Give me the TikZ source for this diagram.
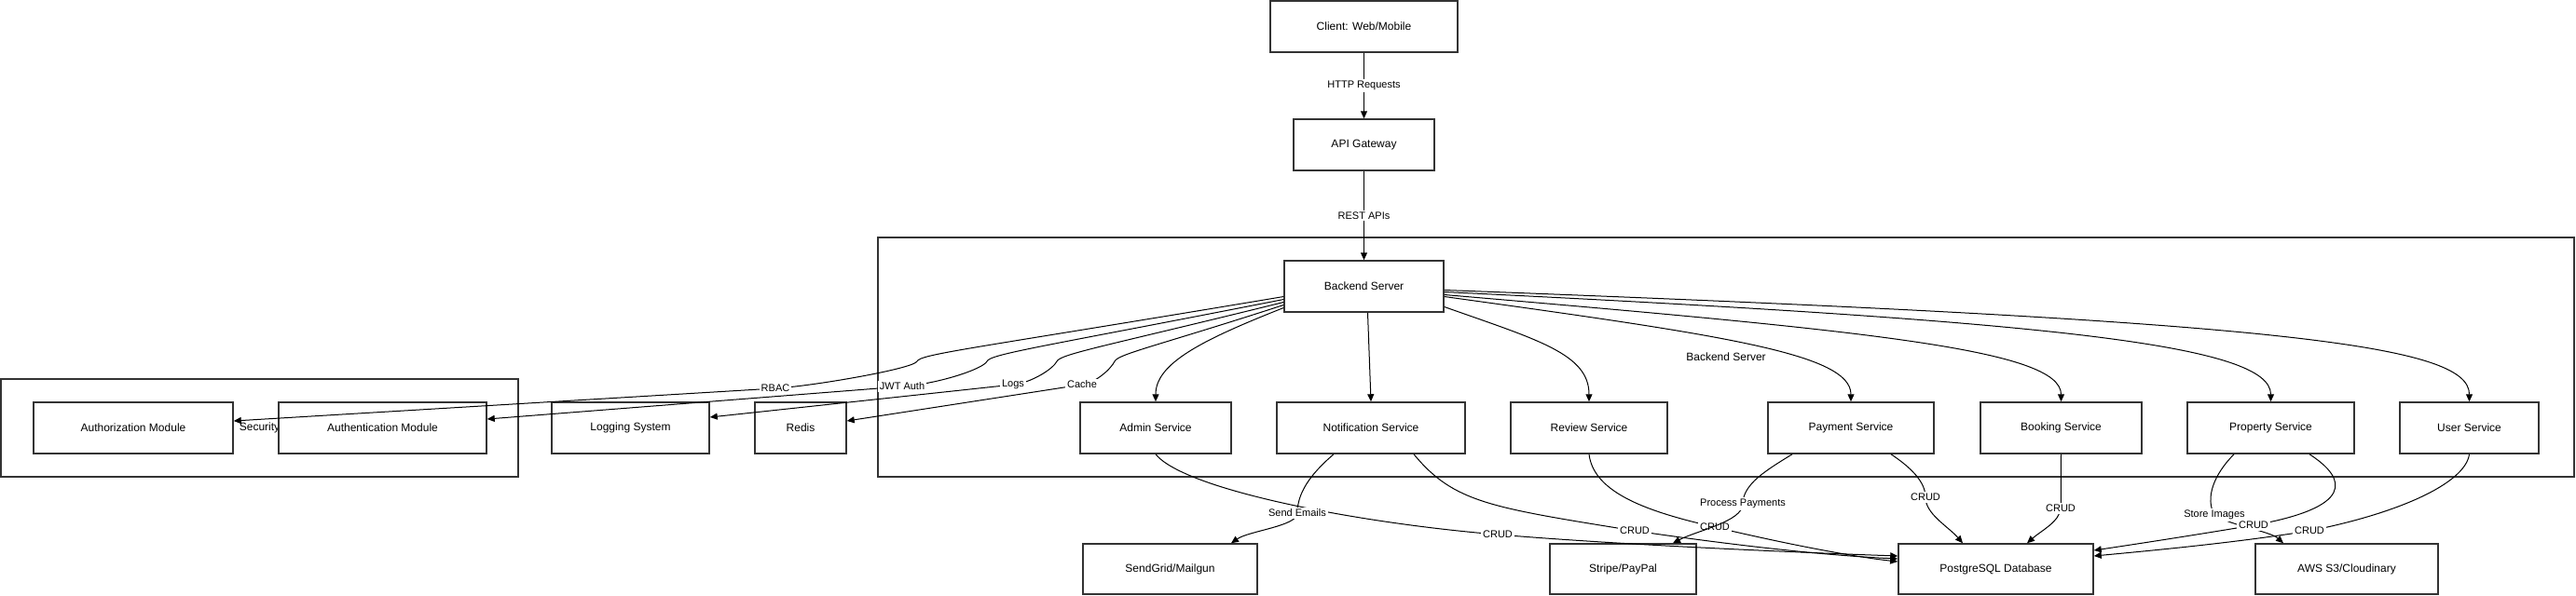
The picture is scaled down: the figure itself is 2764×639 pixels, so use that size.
\documentclass[tikz,border=0pt]{standalone}
\usepackage{fontspec}
\setmainfont{Liberation Sans}
\usetikzlibrary{arrows.meta}

\begin{document}
\begin{tikzpicture}[x=0.5pt, y=-0.5pt,
        box/.style={draw={rgb,255:red,51;green,51;blue,51}, line width=0.75pt, minimum height=27.5pt, inner sep=0pt, font=\fontsize{6}{7}\selectfont},
        cluster/.style={draw={rgb,255:red,51;green,51;blue,51}, line width=0.9pt, inner sep=0pt, font=\fontsize{6}{7}\selectfont},
        link/.style={-{Triangle[length=4pt,width=3.5pt]}, line width=0.5pt},
        lbl/.style={fill=white, inner sep=1pt, font=\fontsize{5.5}{6}\selectfont}]
  \useasboundingbox (0,0) rectangle (2764,639);
  \node[cluster, minimum width=277.5pt, minimum height=52.5pt] (secgroup) at (278.5,459.5) {Security};
  \node[cluster, minimum width=910pt, minimum height=128.5pt] (backgroup) at (1852,383.5) {Backend Server};

  \node[box, minimum width=100.5pt] (client) at (1463.5,28.5) {Client: Web/Mobile};
  \node[box, minimum width=75.5pt] (gateway) at (1463.5,155.5) {API Gateway};
  \node[box, minimum width=85.5pt] (backend) at (1463.5,307.5) {Backend Server};
  \node[box, minimum width=107pt] (authz) at (143,459.5) {Authorization Module};
  \node[box, minimum width=111.5pt] (authn) at (410.5,459.5) {Authentication Module};
  \node[box, minimum width=84.5pt] (logging) at (676.5,459.5) {Logging System};
  \node[box, minimum width=49pt] (redis) at (859,459.5) {Redis};
  \node[box, minimum width=81pt] (admin) at (1240,459.5) {Admin Service};
  \node[box, minimum width=101pt] (notify) at (1471,459.5) {Notification Service};
  \node[box, minimum width=84pt] (review) at (1705,459.5) {Review Service};
  \node[box, minimum width=89pt] (payment) at (1986,459.5) {Payment Service};
  \node[box, minimum width=86.5pt] (booking) at (2211.5,459.5) {Booking Service};
  \node[box, minimum width=89.5pt] (property) at (2436.5,459.5) {Property Service};
  \node[box, minimum width=74.5pt] (usersvc) at (2649.5,459.5) {User Service};
  \node[box, minimum width=93.5pt, minimum height=27pt] (sendgrid) at (1255.5,611) {SendGrid/Mailgun};
  \node[box, minimum width=78.5pt, minimum height=27pt] (stripe) at (1741.5,611) {Stripe/PayPal};
  \node[box, minimum width=104.5pt, minimum height=27pt] (postgres) at (2141.5,611) {PostgreSQL Database};
  \node[box, minimum width=98pt, minimum height=27pt] (awss3) at (2518,611) {AWS S3/Cloudinary};

  \draw[link] (client) -- node[lbl]{HTTP Requests} (gateway);
  \draw[link] (gateway) -- node[lbl]{REST APIs} (backend);

  \draw[link] ([yshift=-5.5pt]backend.west) .. controls (1040,375) and (988,380) .. (984,388) .. controls (980,396) and (872,414.6) .. (832,417) node[lbl]{RBAC} -- ([yshift=3.75pt]authz.east);
  \draw[link] ([yshift=-7pt]backend.west) .. controls (1115,373) and (1063,380) .. (1059,388) .. controls (1055,396) and (1008,412) .. (968,415) node[lbl]{JWT Auth} -- ([yshift=4.75pt]authn.east);
  \draw[link] ([yshift=-8.5pt]backend.west) .. controls (1185,372) and (1138,380) .. (1134,388) .. controls (1130,396) and (1107,411) .. (1087,413) node[lbl]{Logs} -- ([yshift=5.75pt]logging.east);
  \draw[link] ([yshift=-10pt]backend.west) .. controls (1240,372) and (1200,380) .. (1196,388) .. controls (1192,396) and (1176,411) .. (1161,413) node[lbl]{Cache} -- ([yshift=3.75pt]redis.east);

  \draw[link] ([yshift=-11.5pt]backend.west) .. controls (1290,365) and (1240,390) .. (admin.north);
  \draw[link] ([xshift=2pt]backend.south) -- (notify.north);
  \draw[link] ([yshift=-11pt]backend.east) .. controls (1650,365) and (1705,380) .. (review.north);
  \draw[link] ([yshift=-5.5pt]backend.east) .. controls (1850,360) and (1986,380) .. (payment.north);
  \draw[link] ([yshift=-4.5pt]backend.east) .. controls (2000,355) and (2211.5,375) .. (booking.north);
  \draw[link] ([yshift=-3pt]backend.east) .. controls (2200,345) and (2436.5,370) .. (property.north);
  \draw[link] ([yshift=-2pt]backend.east) .. controls (2450,345) and (2649.5,370) .. (usersvc.north);

  \draw[link] (admin.south) .. controls (1270,525) and (1450,561) .. (1607,574) node[lbl]{CRUD} .. controls (1750,586) and (1950,594) .. ([yshift=7pt]postgres.west);
  \draw[link] ([xshift=-20pt]notify.south) .. controls (1405,510) and (1392,530) .. (1392,551) node[lbl]{Send Emails} .. controls (1392,565) and (1340,570) .. ([xshift=32.75pt]sendgrid.north);
  \draw[link] ([xshift=23pt]notify.south) .. controls (1560,540) and (1600,545) .. (1754,570) node[lbl]{CRUD} .. controls (1850,584) and (1950,596) .. ([yshift=5.5pt]postgres.west);
  \draw[link] (review.south) .. controls (1710,530) and (1770,550) .. (1840,566) node[lbl]{CRUD} .. controls (1920,585) and (1990,598) .. ([yshift=4pt]postgres.west);
  \draw[link] ([xshift=-31.5pt]payment.south) .. controls (1895,505) and (1870,520) .. (1870,541) node[lbl]{Process Payments} .. controls (1870,560) and (1820,570) .. ([xshift=26.75pt]stripe.north);
  \draw[link] ([xshift=21.5pt]payment.south) .. controls (2055,505) and (2066,520) .. (2066,534) node[lbl]{CRUD} .. controls (2066,552) and (2090,565) .. ([xshift=-17.75pt]postgres.north);
  \draw[link] (booking.south) .. controls (2211,520) and (2212,535) .. (2211,546) node[lbl]{CRUD} .. controls (2210,560) and (2190,570) .. ([xshift=16.75pt]postgres.north);
  \draw[link] ([xshift=-19.75pt]property.south) .. controls (2375,510) and (2366,535) .. (2376,553) node[lbl]{Store Images} .. controls (2395,565) and (2435,570) .. ([xshift=-34pt]awss3.north);
  \draw[link] ([xshift=20.75pt]property.south) .. controls (2520,515) and (2525,545) .. (2418,564) node[lbl]{CRUD} .. controls (2340,577) and (2280,586) .. ([yshift=10pt]postgres.east);
  \draw[link] (usersvc.south) .. controls (2645,520) and (2570,552) .. (2478,570) node[lbl]{CRUD} .. controls (2398,583) and (2300,592) .. ([yshift=7pt]postgres.east);
\end{tikzpicture}
\end{document}
